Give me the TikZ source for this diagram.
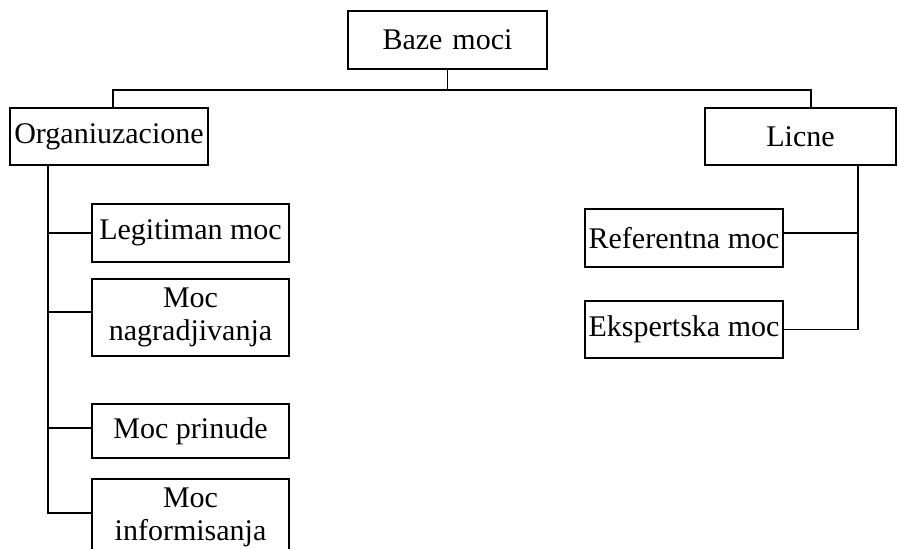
\documentclass[tikz,border=0pt]{standalone}
\usepackage{fontspec}
\setmainfont{Liberation Serif}
\usetikzlibrary{positioning}

\begin{document}
\begin{tikzpicture}[
    x=0.5pt, y=-0.5pt,
    box/.style={rectangle, draw, line width=0.6pt, inner sep=0pt, minimum width=98.5pt, align=center, font=\fontsize{15}{16.5}\selectfont},
    link/.style={line width=0.6pt},
]

\clip (0,0) rectangle (898,548);

\node[box, minimum width=99.5pt, minimum height=29pt] (baze) at (447.5,40) {Baze\hspace{0.33em}moci};
\node[box, minimum width=99pt, minimum height=28.5pt] (org) at (109,136.5) {Organiuzacione};
\node[box, minimum width=95.5pt, minimum height=28.5pt] (licne) at (800.5,136.5) {Licne};

\node[box, minimum height=29pt] (legit) at (190.5,233) {Legitiman moc};
\node[box, minimum height=38.5pt] (nagr) at (190.5,317.5) {Moc\\nagradjivanja};
\node[box, minimum height=27pt] (prin) at (190.5,431) {Moc prinude};
\node[box, minimum height=38.5pt] (inform) at (190.5,517.5) {Moc\\informisanja};

\node[box, minimum width=99pt, minimum height=29pt] (ref) at (684,238) {Referentna moc};
\node[box, minimum width=99pt, minimum height=28.5pt] (eksp) at (684,329.5) {Ekspertska moc};

% top level
\coordinate (top) at (447.5,90);
\draw[link] (baze.south) -- (top);
\draw[link] ([xshift=2pt]org.north) |- (top) -| ([xshift=5.25pt]licne.north);

% left branch
\coordinate (ltrunk) at (48,0);
\coordinate (nagrjoin) at ([yshift=2.75pt]nagr.west);
\coordinate (prinjoin) at ([yshift=1.5pt]prin.west);
\coordinate (informjoin) at ([yshift=2.25pt]inform.west);
\draw[link] (ltrunk |- org.south) |- (informjoin);
\draw[link] (ltrunk |- legit.west) -- (legit.west);
\draw[link] (ltrunk |- nagrjoin) -- (nagrjoin);
\draw[link] (ltrunk |- prinjoin) -- (prinjoin);

% right branch
\coordinate (rtrunk) at (858,0);
\coordinate (refjoin) at ([yshift=2.5pt]ref.east);
\draw[link] (rtrunk |- licne.south) |- (eksp.east);
\draw[link] (refjoin) -- (rtrunk |- refjoin);

\end{tikzpicture}
\end{document}
